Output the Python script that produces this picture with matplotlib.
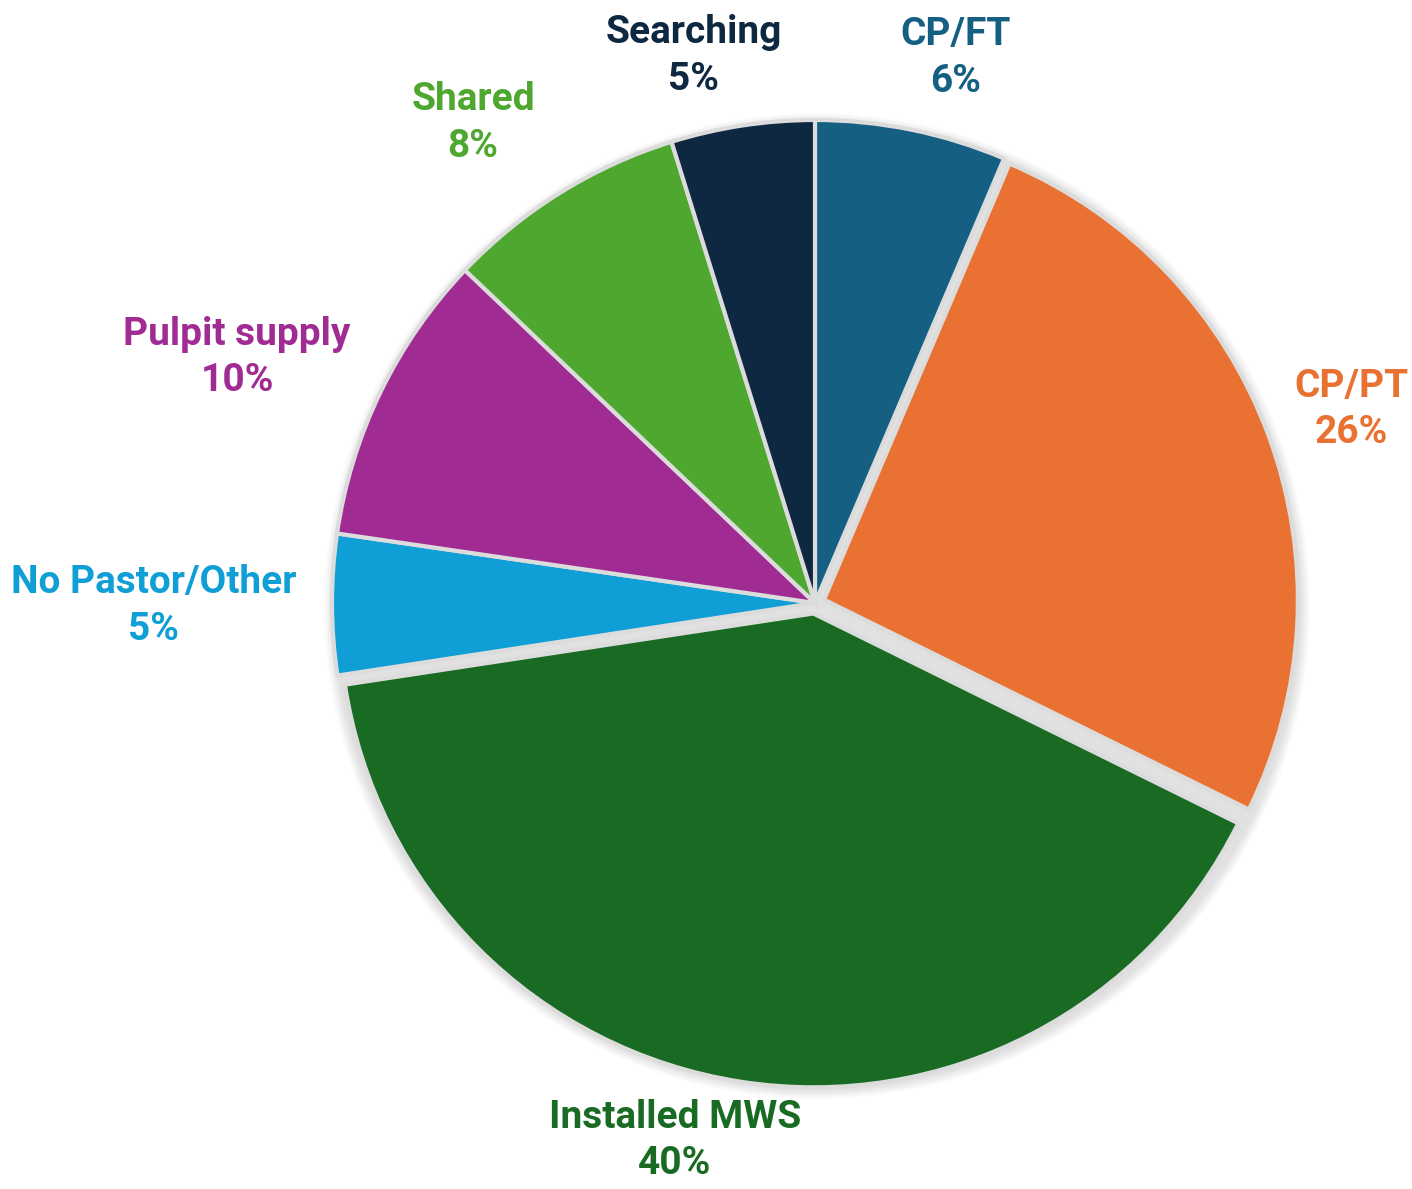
import numpy as np
import matplotlib.pyplot as plt
from matplotlib.patches import Circle

# Share of congregations by pastoral arrangement (%)
LABELS = ["CP/FT", "CP/PT", "Installed MWS", "No Pastor/Other",
          "Pulpit supply", "Shared", "Searching"]
VALUES = [6.4, 25.9, 40.3, 4.7, 9.8, 8.1, 4.8]
COLORS = ["#156082", "#E97132", "#196B24", "#0F9ED5",
          "#A02B93", "#4EA72E", "#0E2841"]
EXPLODE = [0, 0.02, 0.022, 0, 0, 0, 0]   # fraction of radius

# label placement: distance (in radii) and angle nudge (deg) from wedge middle
LABEL_DIST = [1.165, 1.18, 1.15, 1.37, 1.30, 1.22, 1.16]
LABEL_NUDGE = [-2.9, -0.5, -5.8, 0.1, 2.9, 3.6, 3.9]

W, H = 1412, 1189
CX, CY, R = 815, H - 603, 483

plt.rcParams['font.family'] = ['Roboto', 'DejaVu Sans']

fig = plt.figure(figsize=(W / 100, H / 100), dpi=100)
ax = fig.add_axes([0, 0, 1, 1])

# soft shadow behind the pie
for i in range(10, 0, -1):
    ax.add_patch(Circle((CX + 2, CY - 3), R + i, color='black',
                        alpha=0.012, lw=0, zorder=0))

# explode in pie() is in data units, so scale by the radius
wedges, _ = ax.pie(VALUES, colors=COLORS, startangle=90, counterclock=False,
                   explode=[e * R for e in EXPLODE], center=(CX, CY),
                   radius=R, frame=True,
                   wedgeprops=dict(edgecolor='#DCDCDC', linewidth=3))

# exploded slices are drawn a little smaller, like the original
for w, e in zip(wedges, EXPLODE):
    if e:
        w.set_radius(R * 0.981)

for w, lab, val, col, d, nudge in zip(wedges, LABELS, VALUES, COLORS,
                                      LABEL_DIST, LABEL_NUDGE):
    mid = np.deg2rad((w.theta1 + w.theta2) / 2 + nudge)
    x = CX + R * d * np.cos(mid)
    y = CY + R * d * np.sin(mid)
    ax.text(x, y, f"{lab}\n{val:.0f}%", ha='center', va='center',
            color=col, fontsize=28, fontweight='bold', linespacing=1.33)

ax.set_xlim(0, W)
ax.set_ylim(0, H)
ax.set_aspect('equal')
ax.axis('off')

fig.savefig('out.png', dpi=100)
